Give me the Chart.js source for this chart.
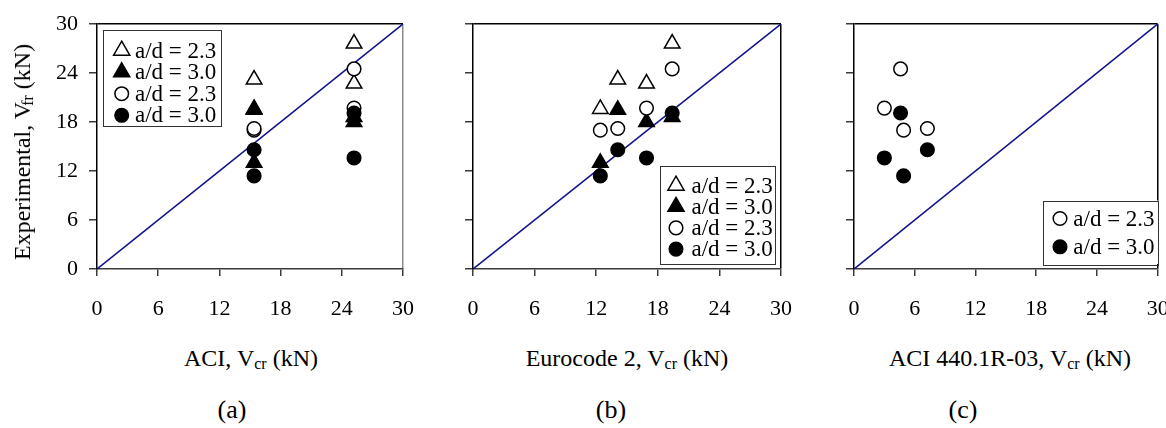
<!DOCTYPE html>
<html>
<head>
<meta charset="utf-8">
<script src="https://cdn.jsdelivr.net/npm/chart.js@4.4.1/dist/chart.umd.min.js"></script>
<style>
  html, body { margin: 0; padding: 0; background: #fff; }
  #wrap { position: relative; width: 1166px; height: 428px; overflow: hidden; background: #fff;
          font-family: "Liberation Serif", "Times New Roman", serif; color: #000; }
  canvas { position: absolute; top: 0; }
  .lbl { position: absolute; white-space: nowrap; font-size: 24px; line-height: 1; transform: translate(-50%, -50%); }
  .lbl sub { font-size: 16px; vertical-align: -3px; line-height: 0; }
  .ytitle { transform: translate(-50%, -50%) rotate(-90deg); }
</style>
</head>
<body>
<div id="wrap">
  <canvas id="ca" width="440" height="340" style="left:0px"></canvas>
  <canvas id="cb" width="360" height="340" style="left:440px"></canvas>
  <canvas id="cc" width="366" height="340" style="left:800px"></canvas>

  <div class="lbl ytitle" style="left:22px; top:152px;">Experimental, V<sub style="margin-left:-4px">fr</sub> (kN)</div>

  <div class="lbl" style="left:251px; top:358px;">ACI, V<sub>cr</sub> (kN)</div>
  <div class="lbl" style="left:627px; top:358px;">Eurocode 2, V<sub>cr</sub> (kN)</div>
  <div class="lbl" style="left:1010px; top:358px;">ACI 440.1R-03, V<sub>cr</sub> (kN)</div>

  <div class="lbl" style="left:232px; top:410px; font-size:26px;">(a)</div>
  <div class="lbl" style="left:611px; top:410px; font-size:26px;">(b)</div>
  <div class="lbl" style="left:963px; top:410px; font-size:26px;">(c)</div>
</div>

<script>
// ---------- data ----------
const tickValues   = [0, 6, 12, 18, 24, 30];
const diagonal     = [0, 30];

const legendLabels = ['a/d = 2.3', 'a/d = 3.0', 'a/d = 2.3', 'a/d = 3.0'];

// experimental shear (kN) per beam
const openTriY    = [19.6, 23.2, 22.7, 27.6];
const filledTriY  = [13.0, 19.5, 18.0, 18.6];
const openCircY   = [17.0, 17.2, 19.7, 24.5];
const filledCircY = [11.4, 14.6, 13.6, 19.1];

// predicted Vcr (kN) per beam
const aciX    = [15.4, 15.4, 25.2, 25.2];
const ec2X    = [12.4, 14.1, 16.9, 19.4];
const aci440X = [4.9, 7.25, 3.0, 4.6];

// ---------- helpers ----------
const FONT = '"Liberation Serif"';

function pts(xs, ys) { return xs.map((x, i) => ({ x: x, y: ys[i] })); }

function markerSet(label, xs, ys, style, filled, legendIdx) {
  return {
    label: label,
    data: pts(xs, ys),
    pointStyle: style,
    pointRadius: style === 'triangle' ? 9 : 6.8,
    pointHoverRadius: style === 'triangle' ? 9 : 6.8,
    pointBackgroundColor: filled ? '#000' : '#fff',
    pointBorderColor: '#000',
    pointBorderWidth: 1.5,
    showLine: false,
    legendIdx: legendIdx
  };
}

function diagSet() {
  return {
    label: 'line',
    data: pts(diagonal, diagonal),
    showLine: true,
    borderColor: '#14148c',
    borderWidth: 1.6,
    pointRadius: 0,
    pointHoverRadius: 0
  };
}

const boxLegend = {
  id: 'boxLegend',
  afterDraw(chart, args, o) {
    if (!o || !o.w) return;
    const ctx = chart.ctx;
    const sets = chart.data.datasets
      .filter(d => d.legendIdx !== undefined)
      .sort((a, b) => a.legendIdx - b.legendIdx);
    ctx.save();
    ctx.fillStyle = '#fff';
    ctx.fillRect(o.x, o.y, o.w, o.h);
    ctx.strokeStyle = '#333';
    ctx.lineWidth = 1;
    ctx.strokeRect(Math.round(o.x) + 0.5, Math.round(o.y) + 0.5, Math.round(o.w), Math.round(o.h));
    sets.forEach((d, i) => {
      const cy = o.y0 + i * o.dy;
      ctx.fillStyle = d.pointBackgroundColor;
      ctx.strokeStyle = '#000';
      ctx.lineWidth = 1.5;
      Chart.helpers.drawPoint(ctx, { pointStyle: d.pointStyle, radius: d.pointStyle === 'triangle' ? 9.3 : 6.8, borderWidth: 1.5, rotation: 0 }, o.mx, cy);
      ctx.fillStyle = '#000';
      ctx.font = '23px ' + FONT;
      ctx.textBaseline = 'middle';
      ctx.textAlign = 'left';
      ctx.fillText(d.label, o.tx, cy + 1);
    });
    ctx.restore();
  }
};

function makeScales(yAxisWidth, showYLabels, rightColor) {
  const setTicks = s => { s.ticks = tickValues.map(v => ({ value: v })); };
  return {
    x: {
      type: 'linear', min: 0, max: 30,
      afterBuildTicks: setTicks,
      afterFit: s => { s.height = 71; s.paddingLeft = 0; s.paddingRight = 0; },
      border: { color: '#3a3a3a', width: 1.5 },
      grid: {
        drawOnChartArea: true,
        color: c => (c.tick && c.tick.value === 30) ? rightColor : 'rgba(0,0,0,0)',
        lineWidth: 1.5,
        tickColor: '#3a3a3a',
        tickLength: 7
      },
      ticks: { font: { family: FONT, size: 22 }, color: '#000', padding: 20, maxRotation: 0, autoSkip: false }
    },
    y: {
      type: 'linear', min: 0, max: 30,
      afterBuildTicks: setTicks,
      afterFit: s => { s.width = yAxisWidth; s.paddingTop = 0; s.paddingBottom = 0; },
      border: { color: '#000', width: 1.5 },
      grid: {
        drawOnChartArea: true,
        color: c => (c.tick && c.tick.value === 30) ? '#000' : 'rgba(0,0,0,0)',
        lineWidth: 1.5,
        tickColor: '#3a3a3a',
        tickLength: 8
      },
      ticks: { display: showYLabels, font: { family: FONT, size: 22 }, color: '#000', padding: 11, autoSkip: false }
    }
  };
}

function makeChart(id, datasets, yAxisWidth, padRight, showYLabels, rightColor, legendOpts) {
  return new Chart(document.getElementById(id), {
    type: 'scatter',
    data: { datasets: datasets },
    options: {
      responsive: false,
      animation: false,
      font: { family: FONT },
      layout: { padding: { top: 24, right: padRight, left: 0, bottom: 0 } },
      scales: makeScales(yAxisWidth, showYLabels, rightColor),
      plugins: {
        legend: { display: false },
        tooltip: { enabled: false },
        boxLegend: legendOpts
      }
    },
    plugins: [boxLegend]
  });
}

function drawAll() {
  Chart.defaults.font.family = FONT;

  // panel (a) : ACI
  makeChart('ca', [
    markerSet(legendLabels[3], aciX, filledCircY, 'circle', true, 3),
    markerSet(legendLabels[2], aciX, openCircY, 'circle', false, 2),
    markerSet(legendLabels[1], aciX, filledTriY, 'triangle', true, 1),
    markerSet(legendLabels[0], aciX, openTriY, 'triangle', false, 0),
    diagSet()
  ], 97, 37, true, '#8a8a8a',
    { x: 102.5, y: 30, w: 118, h: 96, mx: 121.7, tx: 135, y0: 50.5, dy: 21.6 });

  // panel (b) : Eurocode 2
  makeChart('cb', [
    markerSet(legendLabels[3], ec2X, filledCircY, 'circle', true, 3),
    markerSet(legendLabels[2], ec2X, openCircY, 'circle', false, 2),
    markerSet(legendLabels[1], ec2X, filledTriY, 'triangle', true, 1),
    markerSet(legendLabels[0], ec2X, openTriY, 'triangle', false, 0),
    diagSet()
  ], 33, 19, false, '#000',
    { x: 220, y: 165.5, w: 115, h: 98, mx: 236, tx: 251.5, y0: 185.5, dy: 21.2 });

  // panel (c) : ACI 440.1R-03
  makeChart('cc', [
    markerSet(legendLabels[3], aci440X, filledCircY, 'circle', true, 3),
    markerSet(legendLabels[2], aci440X, openCircY, 'circle', false, 2),
    diagSet()
  ], 54, 2, false, '#000',
    { x: 243.3, y: 200.5, w: 115, h: 63.5, mx: 260, tx: 273.3, y0: 218.5, dy: 28.3 });
}

let started = false;
function start() { if (started) return; started = true; drawAll(); }
if (document.fonts && document.fonts.load) {
  Promise.all([
    document.fonts.load('22px "Liberation Serif"'),
    document.fonts.load('23px "Liberation Serif"')
  ]).then(start, start);
  setTimeout(start, 1500);
} else {
  start();
}
</script>
</body>
</html>
